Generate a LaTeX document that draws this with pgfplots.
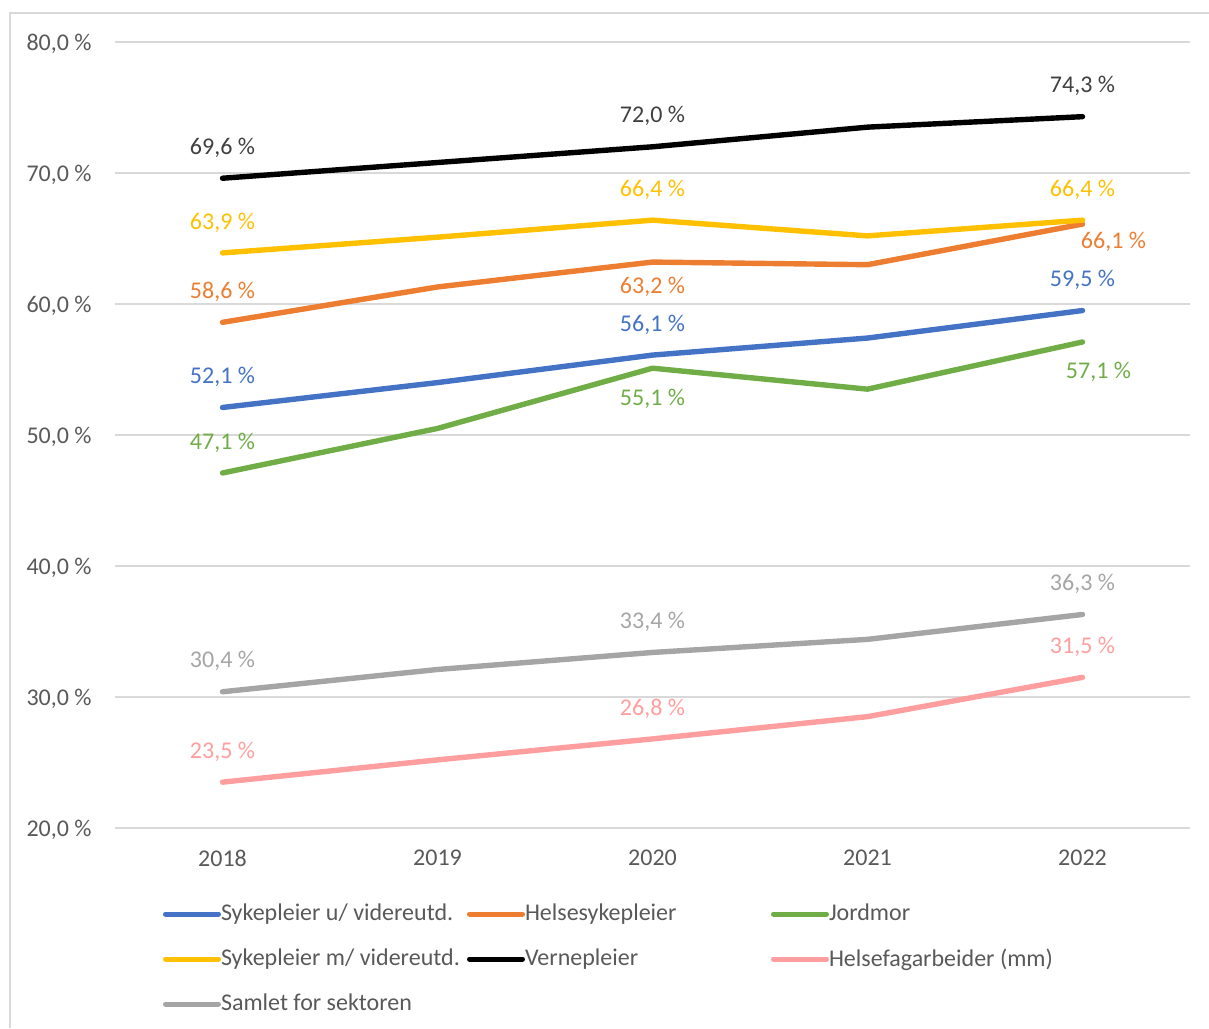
\documentclass[border=0pt]{standalone}
\usepackage{pgfplots}
\usepackage{pgfplotstable}
\pgfplotsset{compat=1.18}
\usepackage{fontspec}
\setmainfont{Carlito}
\definecolor{cblue}{HTML}{4472C4}
\definecolor{corange}{HTML}{ED7D31}
\definecolor{cgreen}{HTML}{70AD47}
\definecolor{cyellow}{HTML}{FFC000}
\definecolor{cblack}{HTML}{000000}
\definecolor{cpink}{HTML}{FF9E9E}
\definecolor{cgray}{HTML}{A5A5A5}
\definecolor{gridc}{HTML}{D9D9D9}
\definecolor{txt}{HTML}{595959}
\definecolor{lblblack}{HTML}{404040}

% x = year index (0 = 2018 ... 4 = 2022)
\pgfplotstableread[col sep=semicolon]{
x;y;lbl;dx;dy
0;52.1;52,1 \%;0;16
1;54.0;;0;0
2;56.1;56,1 \%;0;16
3;57.4;;0;0
4;59.5;59,5 \%;0;16
}\tblSuv
\pgfplotstableread[col sep=semicolon]{
x;y;lbl;dx;dy
0;58.6;58,6 \%;0;16
1;61.3;;0;0
2;63.2;63,2 \%;0;-11.5
3;63.0;;0;0
4;66.1;66,1 \%;15.5;-8
}\tblHelse
\pgfplotstableread[col sep=semicolon]{
x;y;lbl;dx;dy
0;47.1;47,1 \%;0;16
1;50.5;;0;0
2;55.1;55,1 \%;0;-14.5
3;53.5;;0;0
4;57.1;57,1 \%;8;-14
}\tblJord
\pgfplotstableread[col sep=semicolon]{
x;y;lbl;dx;dy
0;63.9;63,9 \%;0;16
1;65.1;;0;0
2;66.4;66,4 \%;0;16
3;65.2;;0;0
4;66.4;66,4 \%;0;16
}\tblSmv
\pgfplotstableread[col sep=semicolon]{
x;y;lbl;dx;dy
0;69.6;69,6 \%;0;16
1;70.8;;0;0
2;72.0;72,0 \%;0;16
3;73.5;;0;0
4;74.3;74,3 \%;0;16
}\tblVern
\pgfplotstableread[col sep=semicolon]{
x;y;lbl;dx;dy
0;23.5;23,5 \%;0;16
1;25.2;;0;0
2;26.8;26,8 \%;0;16
3;28.5;;0;0
4;31.5;31,5 \%;0;16
}\tblFag
\pgfplotstableread[col sep=semicolon]{
x;y;lbl;dx;dy
0;30.4;30,4 \%;0;16
1;32.1;;0;0
2;33.4;33,4 \%;0;16
3;34.4;;0;0
4;36.3;36,3 \%;0;16
}\tblSam

\pgfplotsset{
  serie/.style={color=#1, line width=2.7pt, line cap=round, line join=round},
  lbl/.style={point meta=explicit symbolic, nodes near coords,
    visualization depends on={\thisrow{dx} \as \lblx},
    visualization depends on={\thisrow{dy} \as \lbly},
    every node near coord/.append style={anchor=center, xshift=\lblx pt, yshift=\lbly pt,
      text=#1, inner sep=0pt, text depth=0pt, font=\fontsize{12}{14.4}\selectfont}},
}
\newcommand{\legtxt}[1]{\makebox[123pt][l]{#1}}

\begin{document}
\begin{tikzpicture}
\useasboundingbox (-57.5pt,-100pt) rectangle (547pt,414pt);
\draw[gridc, line width=0.75pt] (-52.5pt,-100pt) -- (-52.5pt,407.5pt) -- (547pt,407.5pt);
\begin{axis}[
  scale only axis, width=537.5pt, height=393pt,
  at={(0,0)}, anchor=south west,
  xmin=-0.5, xmax=4.5, ymin=20, ymax=80,
  xtick={0,1,2,3,4}, xticklabels={2018,2019,2020,2021,2022},
  ytick={20,30,40,50,60,70,80},
  yticklabels={{20,0 \%},{30,0 \%},{40,0 \%},{50,0 \%},{60,0 \%},{70,0 \%},{80,0 \%}},
  ymajorgrids, grid style={gridc, line width=0.75pt},
  axis line style={draw=none}, major tick length=0pt,
  tick label style={font=\fontsize{12}{14.4}\selectfont, text=txt, inner sep=0pt, text depth=0pt},
  yticklabel style={anchor=east, xshift=-11.5pt},
  xticklabel style={anchor=center, yshift=-15pt},
  clip=false,
  legend columns=3,
  legend cell align=left,
  legend style={at={(axis description cs:0,0)}, anchor=north west, xshift=24pt, yshift=-31.75pt,
    draw=none, fill=none, inner sep=0pt, outer sep=0pt,
    font=\fontsize{12}{14.4}\selectfont, text=txt,
    nodes={inner xsep=0pt, inner ysep=0pt, minimum height=22.5pt},
    /tikz/column sep=0pt, /tikz/row sep=0pt},
  legend image code/.code={\draw[#1, line width=2.5pt, line cap=round] (0pt,0pt) -- (26.5pt,0pt);},
]
\addplot[serie=cblue, lbl=cblue] table[x=x, y=y, meta=lbl] {\tblSuv};
\addlegendentry{\legtxt{Sykepleier u/ videreutd.}}
\addplot[serie=corange, lbl=corange] table[x=x, y=y, meta=lbl] {\tblHelse};
\addlegendentry{\legtxt{Helsesykepleier}}
\addplot[serie=cgreen, lbl=cgreen] table[x=x, y=y, meta=lbl] {\tblJord};
\addlegendentry{\legtxt{Jordmor}}
\addplot[serie=cyellow, lbl=cyellow] table[x=x, y=y, meta=lbl] {\tblSmv};
\addlegendentry{\legtxt{Sykepleier m/ videreutd.}}
\addplot[serie=cblack, lbl=lblblack] table[x=x, y=y, meta=lbl] {\tblVern};
\addlegendentry{\legtxt{Vernepleier}}
\addplot[serie=cpink, lbl=cpink] table[x=x, y=y, meta=lbl] {\tblFag};
\addlegendentry{\legtxt{Helsefagarbeider (mm)}}
\addplot[serie=cgray, lbl=cgray] table[x=x, y=y, meta=lbl] {\tblSam};
\addlegendentry{\legtxt{Samlet for sektoren}}
\end{axis}
\end{tikzpicture}
\end{document}
